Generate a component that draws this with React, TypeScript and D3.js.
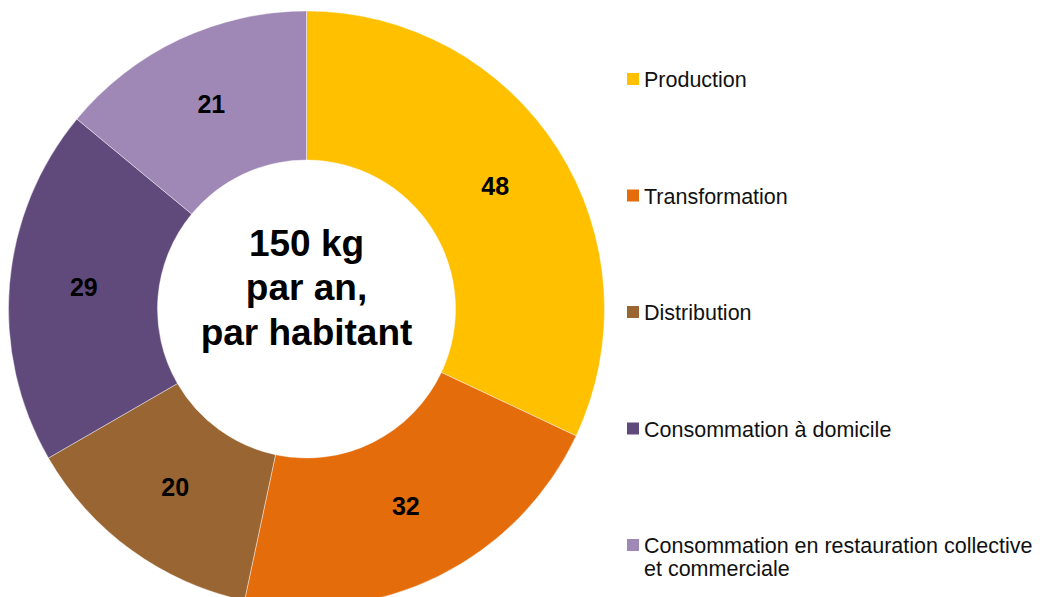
import React, { useEffect, useRef } from 'react';
import * as d3 from 'd3';

// Data (kg per year per inhabitant)
const categories = [
  'Production',
  'Transformation',
  'Distribution',
  'Consommation à domicile',
  'Consommation en restauration collective et commerciale',
];
const values = [48, 32, 20, 29, 21];
const colors = ['#FFC000', '#E46C0A', '#996633', '#604A7B', '#9F88B6'];
const legendLines = [
  ['Production'],
  ['Transformation'],
  ['Distribution'],
  ['Consommation à domicile'],
  ['Consommation en restauration collective', 'et commerciale'],
];
const centerLines = ['150 kg', 'par an,', 'par habitant'];

const App = () => {
  const svgRef = useRef<SVGSVGElement | null>(null);

  useEffect(() => {
    const width = 1043;
    const height = 597;
    const cx = 306.5;
    const cy = 309;
    const outer = 298;
    const inner = 149;
    const font = '"Liberation Sans", Arial, sans-serif';

    const svg = d3.select(svgRef.current)
      .attr('width', width)
      .attr('height', height);
    svg.selectAll('*').remove();

    const data_ready = categories.map((c, i) => ({ key: c, value: values[i] }));

    const color = d3.scaleOrdinal<string, string>()
      .domain(categories)
      .range(colors);

    const pie = d3.pie<{ key: string; value: number }>()
      .value(d => d.value)
      .sort(null);
    const arcs = pie(data_ready);

    const arc = d3.arc<d3.PieArcDatum<{ key: string; value: number }>>()
      .innerRadius(inner)
      .outerRadius(outer);

    const g = svg.append('g')
      .attr('transform', `translate(${cx},${cy})`);

    g.selectAll('path')
      .data(arcs)
      .enter()
      .append('path')
      .attr('d', arc)
      .attr('fill', d => color(d.data.key))
      .attr('stroke', 'rgba(255,255,255,0.6)')
      .style('stroke-width', '0.7px');

    // value labels at the slice centroids
    g.selectAll('text.val')
      .data(arcs)
      .enter()
      .append('text')
      .attr('class', 'val')
      .attr('x', d => arc.centroid(d)[0])
      .attr('y', d => arc.centroid(d)[1] - 3)
      .attr('dy', '0.36em')
      .attr('text-anchor', 'middle')
      .style('font-family', font)
      .style('font-weight', 'bold')
      .style('font-size', '25px')
      .attr('fill', '#000')
      .text(d => d.data.value);

    // center text (sits a bit above the hole's centre)
    const lineH = 44.5;
    const centerOffset = -22;
    g.selectAll('text.center')
      .data(centerLines)
      .enter()
      .append('text')
      .attr('class', 'center')
      .attr('x', 0)
      .attr('y', (d, i) => centerOffset + (i - 1) * lineH)
      .attr('dy', '0.36em')
      .attr('text-anchor', 'middle')
      .style('font-family', font)
      .style('font-weight', 'bold')
      .style('font-size', '37px')
      .attr('fill', '#000')
      .text(d => d);

    // legend
    const legendY = d3.scalePoint<string>()
      .domain(categories)
      .range([87, 553]);

    const legend = svg.append('g');
    const items = legend.selectAll('g.item')
      .data(categories)
      .enter()
      .append('g')
      .attr('class', 'item')
      .attr('transform', d => `translate(627,${legendY(d)})`);

    items.append('rect')
      .attr('x', 0)
      .attr('y', -14)
      .attr('width', 12)
      .attr('height', 12)
      .attr('fill', d => color(d));

    items.append('text')
      .attr('x', 17)
      .attr('y', 0)
      .style('font-family', font)
      .style('font-size', '21.5px')
      .attr('fill', '#111')
      .each(function (d, i) {
        d3.select(this)
          .selectAll('tspan')
          .data(legendLines[i])
          .enter()
          .append('tspan')
          .attr('x', 17)
          .attr('dy', (_, j) => (j === 0 ? 0 : 23))
          .text(t => t);
      });
  }, []);

  return (
    <svg ref={svgRef} style={{ position: 'absolute', left: 0, top: 0 }}></svg>
  );
};

export default App;
